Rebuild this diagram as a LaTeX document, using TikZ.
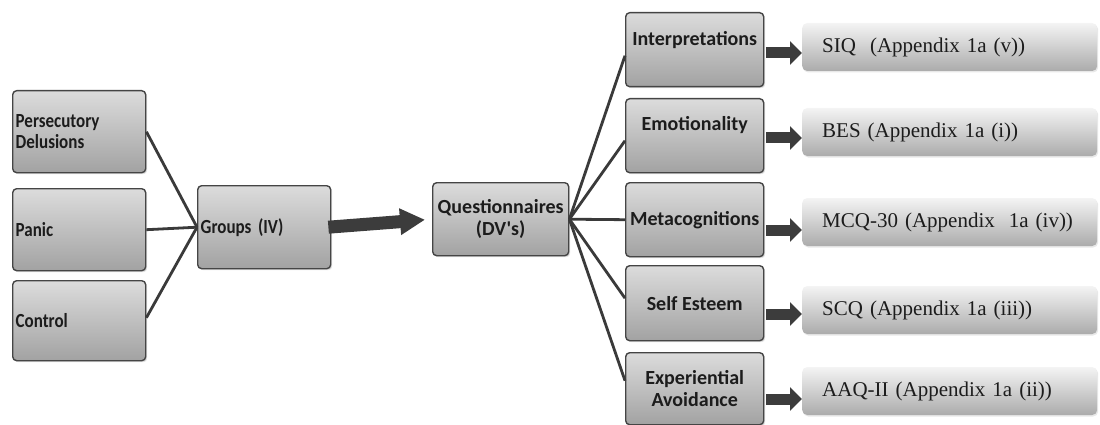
\documentclass[tikz,border=0pt]{standalone}
\usepackage{fontspec}
\setmainfont{Liberation Serif}
\newfontfamily\boxfont{Carlito}
\newfontfamily\narrowfont{Carlito}[FakeStretch=0.85]
\usetikzlibrary{arrows.meta,shadows,calc}

\definecolor{boxedge}{HTML}{454545}
\definecolor{boxtop}{HTML}{DCDCDC}
\definecolor{boxbot}{HTML}{A2A2A2}
\definecolor{restop}{HTML}{F4F4F4}
\definecolor{resbot}{HTML}{ABABAB}
\definecolor{linkgray}{HTML}{3A3A3A}
\definecolor{arrowgray}{HTML}{3C3C3C}
\definecolor{inktext}{HTML}{1C1C1C}

\tikzset{
  greybox/.style={draw=boxedge, line width=1.4pt, rounded corners=4pt,
    top color=boxtop, bottom color=boxbot, text=inktext,
    drop shadow={shadow xshift=1.5pt, shadow yshift=-1.5pt, opacity=0.25},
    inner sep=0pt},
  leftbox/.style={greybox, font=\narrowfont\bfseries\fontsize{20}{21.5}\selectfont,
    minimum width=133pt, text width=127pt, align=left, anchor=north west},
  rightbox/.style={greybox, font=\boxfont\bfseries\fontsize{20}{22.5}\selectfont,
    minimum width=138pt, minimum height=74pt, align=center, anchor=north west},
  resultbox/.style={rounded corners=5pt, top color=restop, bottom color=resbot,
    text=inktext, font=\fontsize{21}{24}\selectfont,
    drop shadow={shadow xshift=1pt, shadow yshift=-1.5pt, opacity=0.18},
    minimum width=295pt, minimum height=48pt, text width=255pt,
    inner xsep=20pt, inner ysep=0pt, align=left, anchor=west},
  link/.style={draw=linkgray, line width=2.8pt},
  bigarrow/.style={draw=arrowgray, line width=13pt,
    -{Triangle[length=25pt 0, width=25pt 0]}, shorten >=7pt},
  smallarrow/.style={draw=arrowgray, line width=11pt,
    -{Triangle[length=12pt 0, width=23pt 0]}}
}

\begin{document}
\begin{tikzpicture}[x=1pt, y=-1pt]
\useasboundingbox (0,0) rectangle (1100,425);

% groups (independent variable)
\node[leftbox, minimum height=82pt] (pd) at (12,90) {Persecutory\\Delusions};
\node[leftbox, minimum height=82pt] (pan) at (12,188) {Panic};
\node[leftbox, minimum height=80pt] (ctl) at (12,280) {Control};
\node[leftbox, minimum height=83pt] (grp) at (197,185) {Groups (IV)};

% questionnaires (dependent variables)
\node[greybox, font=\boxfont\bfseries\fontsize{20}{21.5}\selectfont,
  minimum width=136pt, minimum height=73pt, align=center, anchor=north west]
  (q) at (432,182) {Questionnaires\\(DV's)};

\node[rightbox, text depth=23pt] (int) at (625,12) {Interpretations};
\node[rightbox, text depth=24pt] (emo) at (625,98) {Emotionality};
\node[rightbox] (meta) at (625,182) {Metacognitions};
\node[rightbox, minimum height=75pt] (se) at (625,265) {Self Esteem};
\node[rightbox, minimum height=72pt] (ea) at (625,352) {Experiential\\Avoidance};

% measures
\node[resultbox] (siq) at (802,47) {SIQ\ \ (Appendix 1a (v))};
\node[resultbox] (bes) at (802,132) {BES (Appendix 1a (i))};
\node[resultbox] (mcq) at (802,222) {MCQ-30 (Appendix\ \ 1a (iv))};
\node[resultbox] (scq) at (802,310) {SCQ (Appendix 1a (iii))};
\node[resultbox] (aaq) at (802,391) {AAQ-II (Appendix 1a (ii))};

% connectors into the groups box
\draw[link] (pd.east) -- (grp.west);
\draw[link] (pan.east) -- (grp.west);
\draw[link] ([yshift=3pt]ctl.east) -- (grp.west);

% groups to questionnaires
\draw[bigarrow] ([xshift=-3pt]grp.east) -- (q.west);

% fan out to the constructs
\draw[link] (q.east) -- ([yshift=-6pt]int.west);
\draw[link] (q.east) -- ([yshift=-5pt]emo.west);
\draw[link] (q.east) -- (meta.west);
\draw[link] (q.east) -- ([yshift=5pt]se.west);
\draw[link] (q.east) -- ([yshift=8pt]ea.west);

% constructs to their measures
\draw[smallarrow] ($(int.east |- siq.west)+(2,6)$) -- ($(siq.west)+(0,6)$);
\draw[smallarrow] ($(emo.east |- bes.west)+(2,6)$) -- ($(bes.west)+(0,6)$);
\draw[smallarrow] ($(meta.east |- mcq.west)+(2,8)$) -- ($(mcq.west)+(0,8)$);
\draw[smallarrow] ($(se.east |- scq.west)+(2,4)$) -- ($(scq.west)+(0,4)$);
\draw[smallarrow] ($(ea.east |- aaq.west)+(2,8)$) -- ($(aaq.west)+(0,8)$);
\end{tikzpicture}
\end{document}
